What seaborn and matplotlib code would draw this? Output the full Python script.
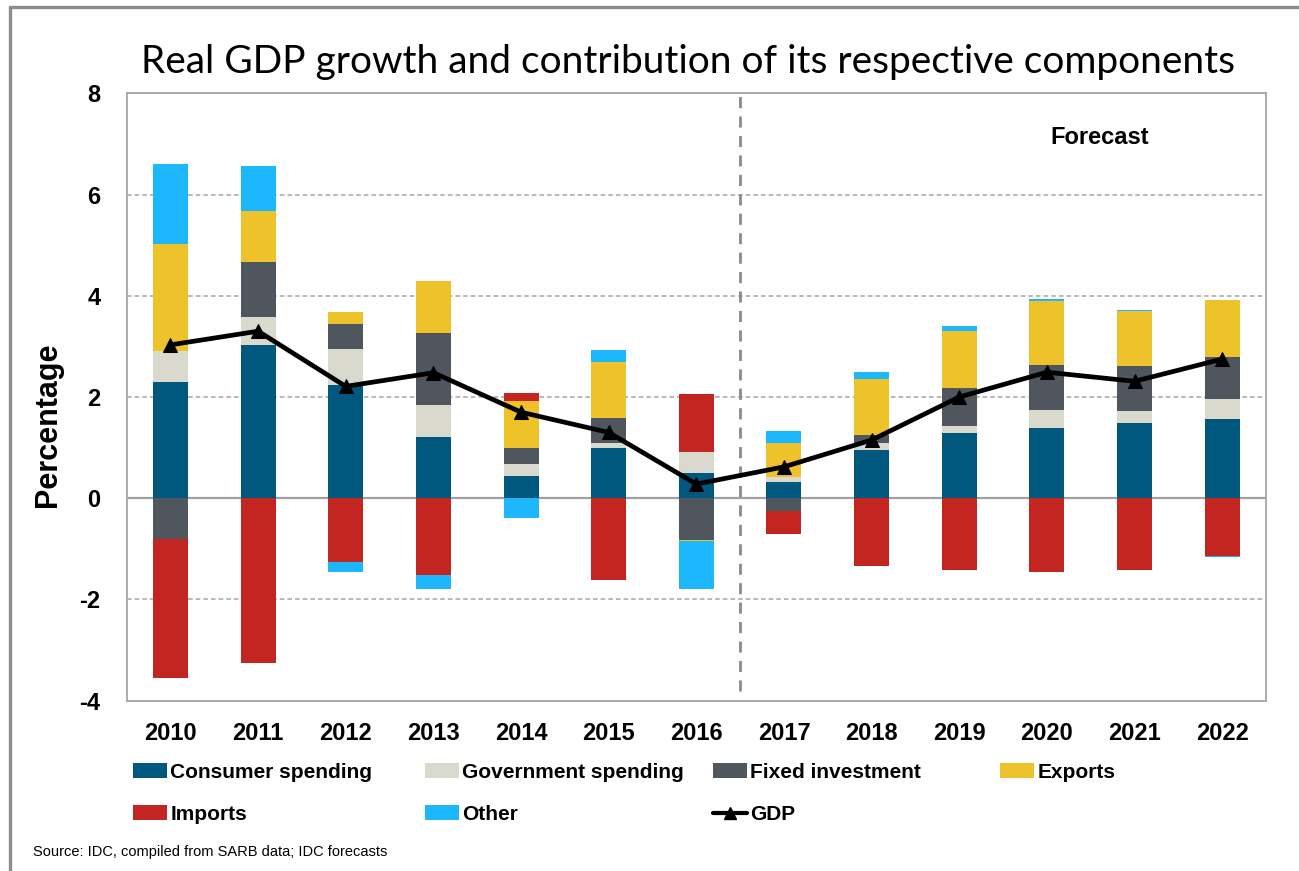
import numpy as np
import matplotlib
matplotlib.use("Agg")
import matplotlib.pyplot as plt
from matplotlib.patches import Patch
from matplotlib.lines import Line2D
import seaborn as sns

# ---- data: contributions to real GDP growth (percentage points) ----
years = ["2010", "2011", "2012", "2013", "2014", "2015", "2016",
         "2017", "2018", "2019", "2020", "2021", "2022"]
consumer = [2.30, 3.03, 2.23, 1.21, 0.43, 1.00, 0.49, 0.32, 0.96, 1.29, 1.39, 1.48, 1.56]
government = [0.61, 0.56, 0.71, 0.64, 0.24, 0.09, 0.43, 0.10, 0.13, 0.13, 0.35, 0.24, 0.40]
fixed_investment = [-0.81, 1.08, 0.50, 1.42, 0.33, 0.49, -0.82, -0.25, 0.16, 0.76, 0.90, 0.90, 0.83]
exports = [2.11, 1.00, 0.23, 1.02, 0.93, 1.12, -0.02, 0.67, 1.11, 1.13, 1.26, 1.08, 1.12]
imports = [-2.74, -3.26, -1.25, -1.52, 0.15, -1.62, 1.14, -0.46, -1.34, -1.41, -1.45, -1.41, -1.15]
other = [1.58, 0.90, -0.20, -0.27, -0.39, 0.23, -0.95, 0.24, 0.14, 0.10, 0.03, 0.02, -0.01]
gdp = [3.03, 3.30, 2.21, 2.48, 1.70, 1.30, 0.28, 0.62, 1.15, 2.00, 2.49, 2.31, 2.75]

series_names = ["Consumer spending", "Government spending", "Fixed investment",
                "Exports", "Imports", "Other"]
series_values = [consumer, government, fixed_investment, exports, imports, other]
series_colors = ["#00587e", "#d9d9cd", "#50565e", "#edc22a", "#c32520", "#1cb7fd"]

sns.set_theme(style="white")
plt.rcParams["font.family"] = ["Liberation Sans", "DejaVu Sans"]
for key in ["text.color", "axes.labelcolor", "xtick.color", "ytick.color"]:
    plt.rcParams[key] = "black"

fig = plt.figure(figsize=(12.99, 8.71), dpi=100)
ax = fig.add_axes([0.0975, 0.1955, 0.9746 - 0.0975, 0.8929 - 0.1955])

# stacked bars: positives stack upward, negatives downward, in series order
pos_base = np.zeros(len(years))
neg_base = np.zeros(len(years))
for name, vals, col in zip(series_names, series_values, series_colors):
    v = np.asarray(vals, dtype=float)
    bottom = np.where(v >= 0, pos_base, neg_base)
    sns.barplot(x=years, y=v, bottom=bottom, color=col, saturation=1,
                width=0.4, errorbar=None, linewidth=0, ax=ax)
    pos_base = np.where(v >= 0, pos_base + v, pos_base)
    neg_base = np.where(v < 0, neg_base + v, neg_base)

# grid and reference lines
for yv in [-2, 2, 4, 6]:
    ax.axhline(yv, color="#a6a6a6", lw=1.1, ls=(0, (3, 2)), zorder=0)
ax.axhline(0, color="#a0a0a0", lw=1.6, zorder=0.5)
ax.vlines(6.5, -3.8, 8, colors="#8a8a8a", lw=2, linestyles=(0, (4, 3)), zorder=0.6)

# GDP growth line
sns.lineplot(x=np.arange(len(years)), y=gdp, color="black", lw=3.4,
             marker="^", markersize=10, markeredgecolor="black", ax=ax,
             sort=False, errorbar=None, legend=False)

ax.set_xlim(-0.5, 12.5)
ax.set_ylim(-4, 8)
ax.set_yticks([-4, -2, 0, 2, 4, 6, 8])
ax.set_yticklabels(["-4", "-2", "0", "2", "4", "6", "8"])
ax.set_xticks(range(len(years)))
ax.set_xticklabels(years)
ax.set_xlabel("")
ax.set_ylabel("")
ax.tick_params(axis="y", length=0, pad=19, labelsize=17)
ax.tick_params(axis="x", length=0, pad=15, labelsize=17)
for lab in ax.get_xticklabels() + ax.get_yticklabels():
    lab.set_fontweight("bold")
for sp in ax.spines.values():
    sp.set_color("#a6a6a6")
    sp.set_linewidth(1.3)

fig.text(48 / 1299, 1 - 425 / 871, "Percentage", rotation=90, ha="center",
         va="center", fontsize=22, fontweight="bold")
fig.text(688 / 1299, 1 - 62 / 871,
         "Real GDP growth and contribution of its respective components",
         ha="center", va="center", fontsize=28, family=["Lato", "DejaVu Sans"],
         fontweight="normal", color="black")
fig.text(1100 / 1299, 1 - 137 / 871, "Forecast", ha="center", va="center",
         fontsize=17, fontweight="bold")
fig.text(33 / 1299, 1 - 852 / 871, "Source: IDC, compiled from SARB data; IDC forecasts",
         ha="left", va="center", fontsize=10.5)

# legend: four columns, two rows
patches = {n: Patch(facecolor=c, edgecolor="none") for n, c in zip(series_names, series_colors)}
gdp_handle = Line2D([], [], color="black", lw=3, marker="^", markersize=9)
columns = [
    (133, ["Consumer spending", "Imports"]),
    (425, ["Government spending", "Other"]),
    (713, ["Fixed investment", "GDP"]),
    (1000, ["Exports"]),
]
for xpix, names in columns:
    handles = [gdp_handle if n == "GDP" else patches[n] for n in names]
    fig.legend(handles, names, loc="upper left",
               bbox_to_anchor=(xpix / 1299, 1 - 763 / 871),
               frameon=False, borderpad=0, borderaxespad=0,
               handlelength=1.65, handleheight=0.7, handletextpad=0.15,
               labelspacing=1.1, prop={"weight": "bold", "size": 15})

# outer frame of the graphic
fig.add_artist(Line2D([10 / 1299, 1], [1 - 7 / 871, 1 - 7 / 871],
                      transform=fig.transFigure, color="#8c8c8c", lw=2.4))
fig.add_artist(Line2D([10 / 1299, 10 / 1299], [0, 1 - 7 / 871],
                      transform=fig.transFigure, color="#8c8c8c", lw=2.4))

fig.savefig("out.png", dpi=100)
